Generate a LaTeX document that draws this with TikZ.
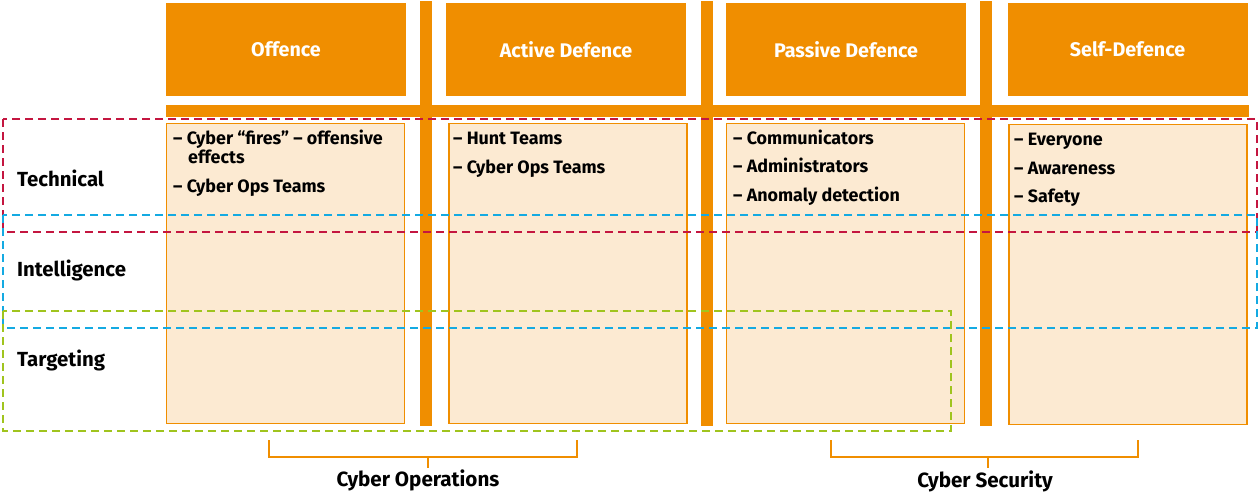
\documentclass[tikz,border=0pt]{standalone}
\usepackage{fontspec}
\setmainfont{Fira Sans}
\definecolor{org}{RGB}{240,142,0}
\definecolor{lightorg}{RGB}{252,234,210}
\definecolor{dred}{RGB}{196,22,64}
\definecolor{dblue}{RGB}{20,170,226}
\definecolor{dgreen}{RGB}{160,196,30}
\begin{document}
\begin{tikzpicture}[x=1pt,y=-1pt,
  hdr/.style={fill=org,text=white,font=\bfseries\fontsize{19.7}{22}\selectfont,minimum width=240pt,minimum height=92pt,inner sep=0pt},
  cbox/.style={draw=org,fill=lightorg,line width=1.5pt,minimum width=238pt,minimum height=300pt,inner sep=0pt},
  barv/.style={fill=org,minimum width=12pt,minimum height=425pt,inner sep=0pt},
  barh/.style={fill=org,minimum width=1083pt,minimum height=12pt,inner sep=0pt},
  item/.style={anchor=base west,inner sep=0pt,font=\bfseries\fontsize{17.9}{20}\selectfont},
  rowlab/.style={anchor=base west,inner sep=0pt,font=\bfseries\fontsize{20.4}{22}\selectfont},
  grp/.style={anchor=base,inner sep=0pt,font=\bfseries\fontsize{20.6}{22}\selectfont},
  band/.style={dash pattern=on 8pt off 5pt,line width=1.5pt},
  brk/.style={draw=org,line width=1.5pt}]
\useasboundingbox (0,0) rectangle (1260,495);
% bars
\node[barv] (v1) at (426,213.5) {};
\node[barv] (v2) at (706.5,213.5) {};
\node[barv] (v3) at (986,213.5) {};
\node[barh] (hb) at (707.5,111) {};
% headers
\node[hdr] (hoff) at (286,49.5) {Offence};
\node[hdr] (hact) at (566,49.5) {Active Defence};
\node[hdr] (hpas) at (846,49.5) {Passive Defence};
\node[hdr] (hself) at (1127.5,49.5) {Self-Defence};
% content boxes
\node[cbox] (coff) at (285.5,273.5) {};
\node[cbox] (cact) at (568,273.5) {};
\node[cbox] (cpas) at (845.5,273.5) {};
\node[cbox] (cself) at (1128,274.5) {};
% items
\node[item] (o1) at (173,144) {– Cyber “fires” – offensive};
\node[item] (o1b) at (188,163) {effects};
\node[item] (o2) at (173,192) {– Cyber Ops Teams};
\node[item] (a1) at (453,144) {– Hunt Teams};
\node[item] (a2) at (453,173) {– Cyber Ops Teams};
\node[item] (p1) at (733,144) {– Communicators};
\node[item] (p2) at (733,172) {– Administrators};
\node[item] (p3) at (733,201) {– Anomaly detection};
\node[item] (s1) at (1014,145) {– Everyone};
\node[item] (s2) at (1014,174) {– Awareness};
\node[item] (s3) at (1014,202) {– Safety};
% row labels
\node[rowlab] (rt) at (17,186) {Technical};
\node[rowlab] (ri) at (17,276) {Intelligence};
\node[rowlab] (rg) at (17,366) {Targeting};
% dashed bands
\draw[band,dred] (3,119) rectangle (1257,232);
\draw[band,dblue] (3,215) rectangle (1257,328);
\draw[band,dgreen] (3,311) rectangle (951,431);
% brackets
\coordinate (b1l) at (269,440);
\coordinate (b1r) at (577,440);
\coordinate (b1m) at (428,457);
\draw[brk] (b1l) |- (b1r |- b1m) -- (b1r);
\draw[brk] (b1m) -- ++(0,11);
\node[grp] (gops) at (418,486) {Cyber Operations};
\coordinate (b2l) at (831,440);
\coordinate (b2r) at (1138,440);
\coordinate (b2m) at (988,457);
\draw[brk] (b2l) |- (b2r |- b2m) -- (b2r);
\draw[brk] (b2m) -- ++(0,11);
\node[grp] (gsec) at (985,487) {Cyber Security};
\end{tikzpicture}
\end{document}
